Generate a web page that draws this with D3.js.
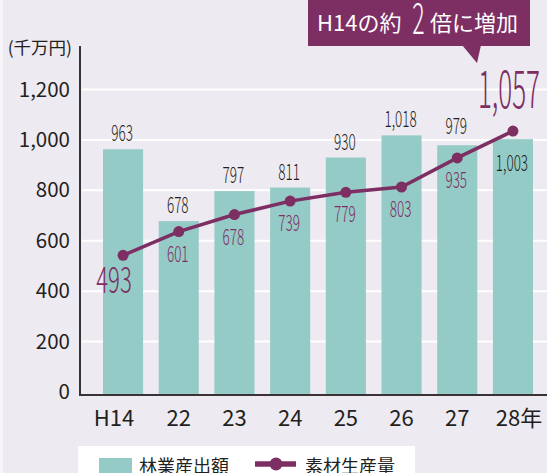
<!DOCTYPE html>
<html>
<head>
<meta charset="utf-8">
<script src="https://cdn.jsdelivr.net/npm/d3@7"></script>
<style>
  html, body { margin: 0; padding: 0; background: #eeeaf1; }
  svg { display: block; }
  text { font-family: "Noto Sans CJK JP", "Noto Sans", sans-serif; }
</style>
</head>
<body>
<svg id="chart" width="547" height="473"></svg>
<script>
const categories = ["H14", "22", "23", "24", "25", "26", "27", "28年"];
const outputValues = [963, 678, 797, 811, 930, 1018, 979, 1003];      // 林業産出額 (千万円)
const productionValues = [493, 601, 678, 739, 779, 803, 935, 1057];   // 素材生産量
const yTicks = [0, 200, 400, 600, 800, 1000, 1200];
const seriesNames = ["林業産出額", "素材生産量"];
const unitLabel = "(千万円)";
const titleParts = ["H14の約", "2", "倍に増加"];

const W = 547, H = 473;
const BG = "#eeeaf1", TEAL = "#95cbc6", PURPLE = "#7d2e63", DARK = "#231f20";

const svg = d3.select("#chart");
svg.append("rect").attr("width", W).attr("height", H).attr("fill", BG);
svg.append("rect").attr("width", 3).attr("height", H).attr("fill", "#f7f5f8");

const x = d3.scaleBand().domain(categories).range([80, 556]).paddingInner(0.28).paddingOuter(0.413);
const y = d3.scaleLinear().domain([0, 1200]).range([392, 89.5]);
// secondary (hidden) scale for the production line
const y2 = d3.scaleLinear().domain([0, 1200]).range([364, 99.5]);
const baseY = 395;

// gridlines
svg.append("g").selectAll("line").data(yTicks.filter(d => d > 0)).join("line")
  .attr("x1", 82).attr("x2", W)
  .attr("y1", d => y(d)).attr("y2", d => y(d))
  .attr("stroke", "#ffffff").attr("stroke-width", 2);

// bars
svg.append("g").selectAll("rect").data(outputValues).join("rect")
  .attr("x", (d, i) => x(categories[i]))
  .attr("width", x.bandwidth())
  .attr("y", d => y(d))
  .attr("height", d => baseY - y(d))
  .attr("fill", TEAL);

// y axis labels
const yAxis = d3.axisLeft(y).tickValues(yTicks).tickFormat(d3.format(",")).tickSize(0).tickPadding(10);
const gy = svg.append("g").attr("transform", "translate(80,0)").call(yAxis);
gy.select(".domain").remove();
gy.selectAll("text").attr("font-size", 20.5).attr("fill", DARK)
  .style("font-family", '"Noto Sans CJK JP", sans-serif');

// axis lines
svg.append("line").attr("x1", 80).attr("x2", 80).attr("y1", 46).attr("y2", 396)
  .attr("stroke", "#3a3335").attr("stroke-width", 2);

// x axis
const xAxis = d3.axisBottom(x).tickSize(0).tickPadding(15);
const gx = svg.append("g").attr("transform", `translate(0,${baseY})`).call(xAxis);
gx.select(".domain").remove();
gx.selectAll("text").attr("font-size", 22).attr("fill", DARK)
  .style("font-family", '"Noto Sans CJK JP", sans-serif')
  .attr("dx", (d, i) => i === 0 ? -9 : (i === categories.length - 1 ? 6 : 0));
svg.append("line").attr("x1", 80).attr("x2", W).attr("y1", baseY).attr("y2", baseY)
  .attr("stroke", "#3a3335").attr("stroke-width", 2);

// unit label
svg.append("text").attr("x", 72).attr("y", 54).attr("text-anchor", "end")
  .attr("font-size", 17.5).attr("fill", DARK).text(unitLabel);

// condensed text helper
function condensed(g, tx, ty, txt, size, sx, color, weight) {
  g.append("text")
    .attr("transform", `translate(${tx},${ty}) scale(${sx},1)`)
    .attr("text-anchor", "middle")
    .attr("font-size", size)
    .attr("font-weight", weight || 300)
    .attr("fill", color)
    .text(txt);
}

// bar value labels
const barLbl = svg.append("g");
outputValues.forEach((v, i) => {
  const cx = x(categories[i]) + x.bandwidth() / 2;
  let ty = y(v) - 8;
  if (i === 6) ty = y(v) - 11;
  if (i === outputValues.length - 1) ty = y(v) + 32;
  condensed(barLbl, cx - 1, ty, d3.format(",")(v), 22.5, 0.6, DARK);
});

// line
const cxOf = i => x(categories[i]) + x.bandwidth() / 2;
const line = d3.line().x((d, i) => cxOf(i)).y(d => y2(d));
svg.append("path").datum(productionValues).attr("d", line)
  .attr("fill", "none").attr("stroke", PURPLE).attr("stroke-width", 3.5);
svg.append("g").selectAll("circle").data(productionValues).join("circle")
  .attr("cx", (d, i) => cxOf(i)).attr("cy", d => y2(d)).attr("r", 5.5).attr("fill", PURPLE);

// line labels
const lineLbl = svg.append("g");
productionValues.forEach((v, i) => {
  const cx = cxOf(i);
  const last = productionValues.length - 1;
  if (i === 0) {
    condensed(lineLbl, cx - 9, y2(v) + 38, d3.format(",")(v), 37, 0.6, PURPLE);
  } else if (i === last) {
    condensed(lineLbl, cx - 4, y2(v) - 23, d3.format(",")(v), 52, 0.5, PURPLE);
  } else {
    condensed(lineLbl, cx - 1, y2(v) + 30, d3.format(",")(v), 22.5, 0.6, PURPLE);
  }
});

// title callout
const tg = svg.append("g");
tg.append("rect").attr("x", 308).attr("y", 0).attr("width", 222).attr("height", 46).attr("fill", PURPLE);
tg.append("path").attr("d", "M462,45 L481,45 L477,63 Z").attr("fill", PURPLE);
tg.append("text").attr("x", 317).attr("y", 31).attr("font-size", 22).attr("fill", "#ffffff").text(titleParts[0]);
condensed(tg, 418.5, 34, titleParts[1], 42, 0.55, "#ffffff", 300);
tg.append("text").attr("x", 430).attr("y", 31).attr("font-size", 22).attr("fill", "#ffffff").text(titleParts[2]);

// legend
const lg = svg.append("g");
lg.append("rect").attr("x", 78).attr("y", 446).attr("width", 337).attr("height", 30).attr("fill", "#ffffff");
lg.append("rect").attr("x", 99).attr("y", 458).attr("width", 33).attr("height", 20).attr("fill", TEAL);
lg.append("text").attr("x", 139).attr("y", 473).attr("font-size", 18).attr("fill", DARK).text(seriesNames[0]);
lg.append("line").attr("x1", 255).attr("x2", 296).attr("y1", 464).attr("y2", 464)
  .attr("stroke", PURPLE).attr("stroke-width", 5.5);
lg.append("circle").attr("cx", 276).attr("cy", 464).attr("r", 6.5).attr("fill", PURPLE);
lg.append("text").attr("x", 305).attr("y", 473).attr("font-size", 18).attr("fill", DARK).text(seriesNames[1]);
</script>
</body>
</html>
